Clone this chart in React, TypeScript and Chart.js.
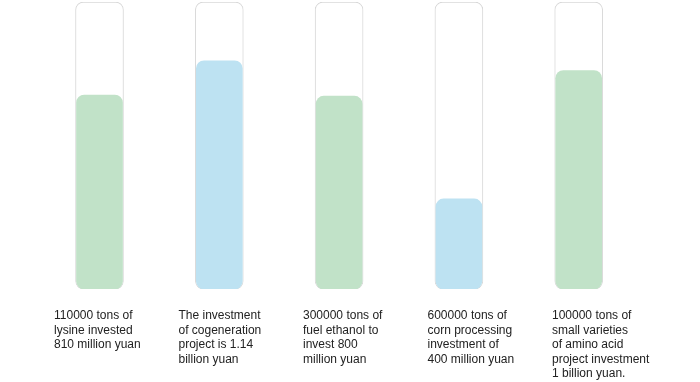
import React, { useEffect, useRef } from "react";
import { Chart, registerables } from "chart.js";

Chart.register(...registerables);

const categories: string[][] = [
  ["110000 tons of", "lysine invested", "810 million yuan"],
  ["The investment", "of cogeneration", "project is 1.14", "billion yuan"],
  ["300000 tons of", "fuel ethanol to", "invest 800", "million yuan"],
  ["600000 tons of", "corn processing", "investment of", "400 million yuan"],
  ["100000 tons of", "small varieties", "of amino acid", "project investment", "1 billion yuan."],
];
const fillValues = [67.6, 79.5, 67.2, 31.4, 76.1];
const capacityValues = [100, 100, 100, 100, 100];
const barColors = ["#c1e2c8", "#bde2f2", "#c1e2c8", "#bde2f2", "#c1e2c8"];

const labelPlugin = {
  id: "blockLabels",
  afterDraw(chart: any) {
    const ctx = chart.ctx;
    const n = categories.length;
    const startX = 54;
    const endX = 552;
    const step = (endX - startX) / (n - 1);
    ctx.save();
    ctx.font = "12px 'Liberation Sans', Arial, sans-serif";
    ctx.fillStyle = "#222";
    ctx.textAlign = "left";
    ctx.textBaseline = "alphabetic";
    categories.forEach((lines, i) => {
      const x = startX + i * step;
      lines.forEach((line, j) => {
        ctx.fillText(line, x, 319 + j * 14.5);
      });
    });
    ctx.restore();
  },
};

export default function App() {
  const ref = useRef<HTMLCanvasElement>(null);
  useEffect(() => {
    if (!ref.current) return;
    const chart = new Chart(ref.current, {
      type: "bar",
      data: {
        labels: categories,
        datasets: [
          {
            data: capacityValues,
            backgroundColor: "#ffffff",
            borderColor: "#d9d9d9",
            borderWidth: 1,
            borderRadius: 8,
            borderSkipped: false,
            barThickness: 48,
            grouped: false,
            order: 2,
          },
          {
            data: fillValues,
            backgroundColor: barColors,
            borderWidth: 0,
            borderRadius: 8,
            borderSkipped: false,
            barThickness: 46,
            grouped: false,
            order: 1,
          },
        ],
      },
      options: {
        animation: false,
        responsive: false,
        maintainAspectRatio: false,
        layout: { padding: { left: 39.6, right: 61.4, top: 2, bottom: 93 } },
        plugins: { legend: { display: false }, tooltip: { enabled: false } },
        scales: {
          x: { display: false, grid: { display: false } },
          y: { display: false, min: 0, max: 100, grid: { display: false } },
        },
      },
      plugins: [labelPlugin],
    });
    return () => chart.destroy();
  }, []);
  return (
    <div style={{ position: "fixed", left: 0, top: 0, width: 700, height: 382, background: "#fff" }}>
      <canvas ref={ref} width={700} height={382} style={{ width: 700, height: 382 }} />
    </div>
  );
}
